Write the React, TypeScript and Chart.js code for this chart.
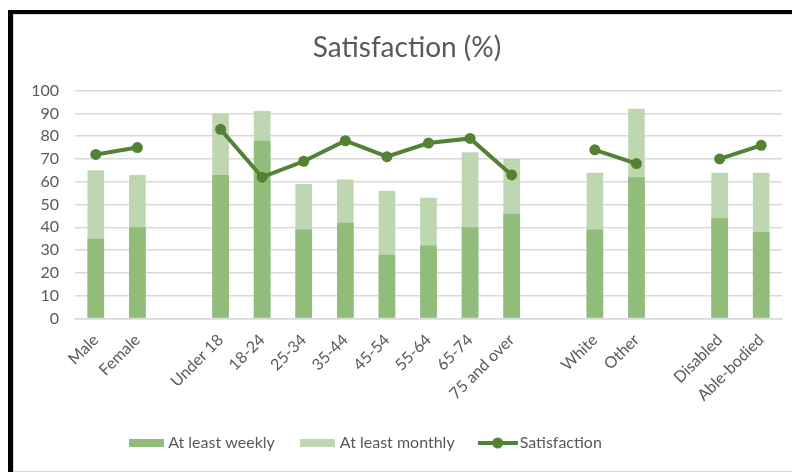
import React, { useEffect, useRef } from "react";
import { Chart, registerables } from "chart.js";

Chart.register(...registerables);

const categories = ["Male", "Female", "", "Under 18", "18-24", "25-34", "35-44", "45-54", "55-64", "65-74", "75 and over", "", "White", "Other", "", "Disabled", "Able-bodied"];
const atLeastWeekly = [35, 40, null, 63, 78, 39, 42, 28, 32, 40, 46, null, 39, 62, null, 44, 38];
const atLeastMonthly = [65, 63, null, 90, 91, 59, 61, 56, 53, 73, 70, null, 64, 92, null, 64, 64];
const satisfaction = [72, 75, null, 83, 62, 69, 78, 71, 77, 79, 63, null, 74, 68, null, 70, 76];
const yTickValues = [0, 10, 20, 30, 40, 50, 60, 70, 80, 90, 100];

const WEEKLY_COLOR = "#92BC7A";
const MONTHLY_COLOR = "#BED7B1";
const LINE_COLOR = "#548235";
const TEXT_COLOR = "#595959";
const FONT = "Lato, 'Open Sans', sans-serif";

function boxImage(color: string, w: number, h: number) {
  const c = document.createElement("canvas");
  c.width = w;
  c.height = h;
  const ctx = c.getContext("2d")!;
  ctx.fillStyle = color;
  ctx.fillRect(0, 0, w, h);
  return c;
}

function lineImage(color: string, w: number, h: number) {
  const c = document.createElement("canvas");
  c.width = w;
  c.height = h;
  const ctx = c.getContext("2d")!;
  ctx.strokeStyle = color;
  ctx.lineWidth = 4;
  ctx.beginPath();
  ctx.moveTo(0, h / 2);
  ctx.lineTo(w, h / 2);
  ctx.stroke();
  ctx.fillStyle = color;
  ctx.beginPath();
  ctx.arc(w / 2, h / 2, 5.5, 0, Math.PI * 2);
  ctx.fill();
  return c;
}

const blockShift = {
  id: "blockShift",
  afterLayout(chart: any) {
    if (chart.legend) {
      chart.legend.left -= 31;
      chart.legend.right -= 31;
    }
    if (chart.titleBlock) {
      chart.titleBlock.left += 9;
      chart.titleBlock.right += 9;
    }
  },
};

export default function App() {
  const ref = useRef<HTMLCanvasElement | null>(null);

  useEffect(() => {
    if (!ref.current) return;
    const legendImages = [
      boxImage(WEEKLY_COLOR, 35, 8),
      boxImage(MONTHLY_COLOR, 35, 8),
      lineImage(LINE_COLOR, 40, 12),
    ];
    const chart = new Chart(ref.current, {
      type: "bar",
      plugins: [blockShift],
      data: {
        labels: categories,
        datasets: [
          {
            type: "bar",
            label: "At least weekly",
            data: atLeastWeekly,
            backgroundColor: WEEKLY_COLOR,
            barPercentage: 0.4,
            categoryPercentage: 1,
            order: 1,
          },
          {
            type: "bar",
            label: "At least monthly",
            data: atLeastMonthly,
            backgroundColor: MONTHLY_COLOR,
            barPercentage: 0.4,
            categoryPercentage: 1,
            order: 2,
          },
          {
            type: "line",
            label: "Satisfaction",
            data: satisfaction,
            borderColor: LINE_COLOR,
            backgroundColor: LINE_COLOR,
            borderWidth: 4,
            pointRadius: 5.5,
            pointBorderWidth: 0,
            pointBackgroundColor: LINE_COLOR,
            spanGaps: false,
            tension: 0,
            order: 0,
          },
        ] as any,
      },
      options: {
        responsive: false,
        animation: false,
        layout: { padding: { left: 0, right: 18, top: 0, bottom: 10 } },
        scales: {
          x: {
            stacked: true,
            afterFit: (s: any) => {
              s.height = s.height - 3;
            },
            grid: { display: false },
            border: { display: true, color: "#d9d9d9", width: 1.5 },
            ticks: {
              autoSkip: false,
              minRotation: 45,
              maxRotation: 45,
              padding: 4,
              color: TEXT_COLOR,
              font: { family: FONT, size: 16 },
            },
          },
          y: {
            stacked: false,
            min: 0,
            max: 100,
            afterFit: (s: any) => {
              s.width = 61;
            },
            afterBuildTicks: (s: any) => {
              s.ticks = yTickValues.map((v) => ({ value: v }));
            },
            grid: { color: "#d9d9d9", lineWidth: 1.5, drawTicks: false },
            border: { display: false },
            ticks: {
              autoSkip: false,
              padding: 16,
              color: TEXT_COLOR,
              font: { family: FONT, size: 16 },
            },
          },
        },
        plugins: {
          title: {
            display: true,
            text: "Satisfaction (%)",
            color: TEXT_COLOR,
            font: { family: FONT, size: 28, weight: "normal" },
            padding: { top: 16.5, bottom: 25.5 },
          },
          legend: {
            position: "bottom",
            labels: {
              usePointStyle: true,
              pointStyleWidth: 28,
              boxHeight: 12,
              padding: 29,
              color: TEXT_COLOR,
              font: { family: FONT, size: 16 },
              generateLabels: (c: any) =>
                c.data.datasets.map((ds: any, i: number) => ({
                  text: ds.label,
                  datasetIndex: i,
                  pointStyle: legendImages[i],
                  fillStyle: "transparent",
                  strokeStyle: "transparent",
                  lineWidth: 0,
                  hidden: false,
                  fontColor: TEXT_COLOR,
                })),
            },
          },
          tooltip: { enabled: false },
        },
      } as any,
    });
    return () => chart.destroy();
  }, []);

  return (
    <div
      style={{
        marginTop: 2,
        width: 792,
        boxSizing: "border-box",
        borderTop: "4px solid #000",
        borderLeft: "5px solid #000",
        background: "#fff",
      }}
    >
      <div
        style={{
          borderTop: "1px solid #d9d9d9",
          borderLeft: "1px solid #d9d9d9",
          borderBottom: "1px solid #d9d9d9",
          height: 456,
        }}
      >
        <canvas ref={ref} width={786} height={456} style={{ display: "block" }} />
      </div>
    </div>
  );
}
